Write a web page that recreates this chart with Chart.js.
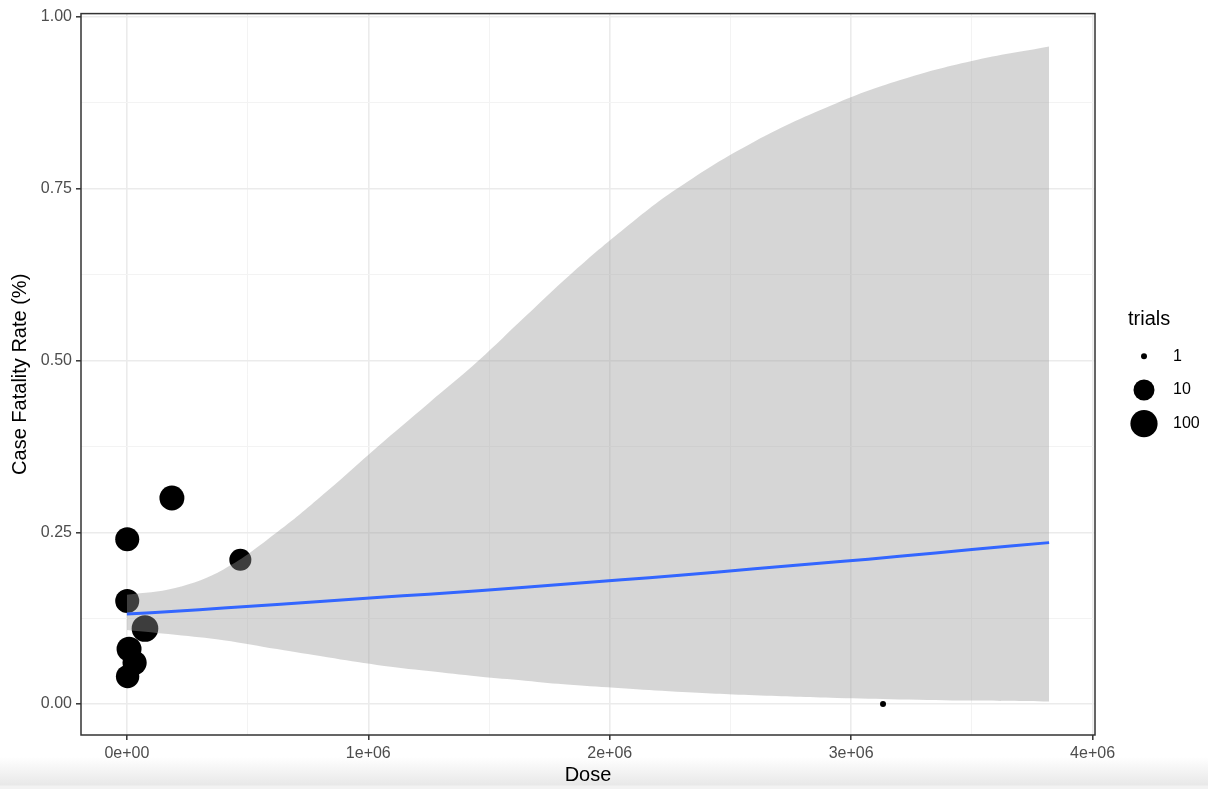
<!DOCTYPE html>
<html>
<head>
<meta charset="utf-8">
<title>Case fatality rate by dose</title>
<script src="https://cdn.jsdelivr.net/npm/chart.js@4.4.1/dist/chart.umd.min.js"></script>
<style>
  html, body { margin: 0; padding: 0; }
  body {
    width: 1208px; height: 789px; overflow: hidden;
    background: linear-gradient(to bottom, #ffffff 0px, #ffffff 757px, #e8e8e8 785px, #f2f2f2 786px, #f2f2f2 789px);
  }
  #wrap { position: relative; width: 1208px; height: 789px; }
</style>
</head>
<body>
<div id="wrap"><canvas id="chart" width="1208" height="789"></canvas></div>
<script>
// Observed outbreaks: dose, case fatality rate, number of trials
const dose     = [186500, 1500, 470000, 1500, 75000, 9000, 32000, 3000, 3132000];
const fatality = [0.30,   0.24, 0.21,   0.15, 0.11,  0.08, 0.06,  0.04, 0.00];
const trials   = [40,     28,   14,     28,   80,    40,   30,    22,   1];

// Logistic smooth with its 95% confidence band
const fitDose   = [0, 0.2e6, 0.4e6, 0.622e6, 0.83e6, 1.036e6, 1.25e6, 1.457e6, 1.65e6,
                   1.836e6, 2.05e6, 2.278e6, 2.6e6, 2.942e6, 3.2e6, 3.5e6, 3.82e6];
const fitRate   = [0.131, 0.135, 0.140, 0.145, 0.150, 0.155, 0.160, 0.165, 0.170,
                   0.175, 0.181, 0.187, 0.197, 0.207, 0.215, 0.225, 0.235];
const bandUpper = [0.159, 0.169, 0.196, 0.250, 0.310, 0.374, 0.438, 0.500, 0.564,
                   0.625, 0.689, 0.750, 0.819, 0.875, 0.908, 0.936, 0.957];
const bandLower = [0.108, 0.101, 0.093, 0.080, 0.068, 0.057, 0.048, 0.040, 0.034,
                   0.028, 0.023, 0.018, 0.0128, 0.0088, 0.0068, 0.0051, 0.0037];

// Axis breaks
const xMajor = [0, 1e6, 2e6, 3e6, 4e6];
const xMinor = [0.5e6, 1.5e6, 2.5e6, 3.5e6];
const xTickLabels = ['0e+00', '1e+06', '2e+06', '3e+06', '4e+06'];
const yMajor = [0, 0.25, 0.5, 0.75, 1.0];
const yMinor = [0.125, 0.375, 0.625, 0.875];
const yTickLabels = ['0.00', '0.25', '0.50', '0.75', '1.00'];
const legendBreaks = [1, 10, 100];

const FONT = '"Liberation Sans", Arial, Helvetica, sans-serif';

// point radius from trial count (log scale, area palette)
function sizeFor(n) {
  return 3 + 10.6 * Math.sqrt(Math.log10(n) / 2);
}

const xy = (xs, ys) => xs.map((x, i) => ({ x: x, y: ys[i] }));

function gridStyle(majors) {
  const isMajor = ctx => majors.some(v => Math.abs(v - ctx.tick.value) < 1e-9);
  return {
    drawOnChartArea: true,
    color: ctx => isMajor(ctx) ? '#EBEBEB' : '#F3F3F3',
    lineWidth: ctx => isMajor(ctx) ? 1.6 : 1,
    tickColor: ctx => isMajor(ctx) ? '#333333' : 'rgba(0,0,0,0)',
    tickLength: 5,
    tickWidth: 1.5
  };
}

function tickLabel(majors, labels) {
  return value => {
    const i = majors.findIndex(v => Math.abs(v - value) < 1e-9);
    return i >= 0 ? labels[i] : '';
  };
}

// panel border drawn over the data
const panelBorder = {
  id: 'panelBorder',
  afterDatasetsDraw(chart) {
    const a = chart.chartArea, c = chart.ctx;
    c.save();
    c.strokeStyle = '#333333';
    c.lineWidth = 1.5;
    c.strokeRect(a.left, a.top, a.right - a.left, a.bottom - a.top);
    c.restore();
  }
};

// size legend on the right
const sizeLegend = {
  id: 'sizeLegend',
  afterDraw(chart) {
    const a = chart.chartArea, c = chart.ctx;
    const x0 = a.right + 33;
    const keyX = a.right + 49;
    const labelX = a.right + 78;
    const midY = (a.top + a.bottom) / 2;
    c.save();
    c.fillStyle = '#000000';
    c.textAlign = 'left';
    c.textBaseline = 'middle';
    c.font = '20px ' + FONT;
    c.fillText('trials', x0, midY - 55);
    legendBreaks.forEach((b, i) => {
      const cy = midY - 18 + i * 33.7;
      c.beginPath();
      c.arc(keyX, cy, sizeFor(b), 0, Math.PI * 2);
      c.fill();
      c.font = '16px ' + FONT;
      c.fillText(String(b), labelX, cy);
    });
    c.restore();
  }
};

new Chart(document.getElementById('chart'), {
  type: 'scatter',
  data: {
    datasets: [
      {
        type: 'line',
        label: 'fit',
        data: xy(fitDose, fitRate),
        borderColor: '#3366FF',
        borderWidth: 3,
        pointRadius: 0,
        fill: false,
        tension: 0.4
      },
      {
        type: 'line',
        label: 'upper',
        data: xy(fitDose, bandUpper),
        borderColor: 'rgba(0,0,0,0)',
        borderWidth: 0,
        pointRadius: 0,
        backgroundColor: 'rgba(153,153,153,0.4)',
        fill: '+1',
        tension: 0.4
      },
      {
        type: 'line',
        label: 'lower',
        data: xy(fitDose, bandLower),
        borderColor: 'rgba(0,0,0,0)',
        borderWidth: 0,
        pointRadius: 0,
        fill: false,
        tension: 0.4
      },
      {
        type: 'scatter',
        label: 'cases',
        data: xy(dose, fatality),
        backgroundColor: '#000000',
        borderWidth: 0,
        pointRadius: ctx => sizeFor(trials[ctx.dataIndex]),
        pointHoverRadius: ctx => sizeFor(trials[ctx.dataIndex])
      }
    ]
  },
  options: {
    responsive: false,
    animation: false,
    devicePixelRatio: 1,
    layout: { padding: { left: 0, top: 13, right: 113, bottom: 0 } },
    plugins: {
      legend: { display: false },
      tooltip: { enabled: false }
    },
    scales: {
      x: {
        type: 'linear',
        min: -0.19e6,
        max: 4.01e6,
        afterBuildTicks: s => {
          s.ticks = xMajor.concat(xMinor).sort((a, b) => a - b).map(v => ({ value: v }));
        },
        afterFit: s => { s.height = 54; },
        grid: gridStyle(xMajor),
        border: { display: false },
        ticks: {
          autoSkip: false,
          maxRotation: 0,
          padding: 4,
          color: '#4D4D4D',
          font: { family: FONT, size: 16 },
          callback: tickLabel(xMajor, xTickLabels)
        },
        title: {
          display: true,
          text: 'Dose',
          color: '#000000',
          font: { family: FONT, size: 20 },
          padding: { top: 0, bottom: 2 }
        }
      },
      y: {
        type: 'linear',
        min: -0.045,
        max: 1.005,
        afterBuildTicks: s => {
          s.ticks = yMajor.concat(yMinor).sort((a, b) => a - b).map(v => ({ value: v }));
        },
        afterFit: s => { s.width = 81; },
        grid: gridStyle(yMajor),
        border: { display: false },
        ticks: {
          autoSkip: false,
          padding: 4,
          color: '#4D4D4D',
          font: { family: FONT, size: 16 },
          callback: tickLabel(yMajor, yTickLabels)
        },
        title: {
          display: true,
          text: 'Case Fatality Rate (%)',
          color: '#000000',
          font: { family: FONT, size: 20 },
          padding: { top: 8, bottom: 0 }
        }
      }
    }
  },
  plugins: [panelBorder, sizeLegend]
});
</script>
</body>
</html>
